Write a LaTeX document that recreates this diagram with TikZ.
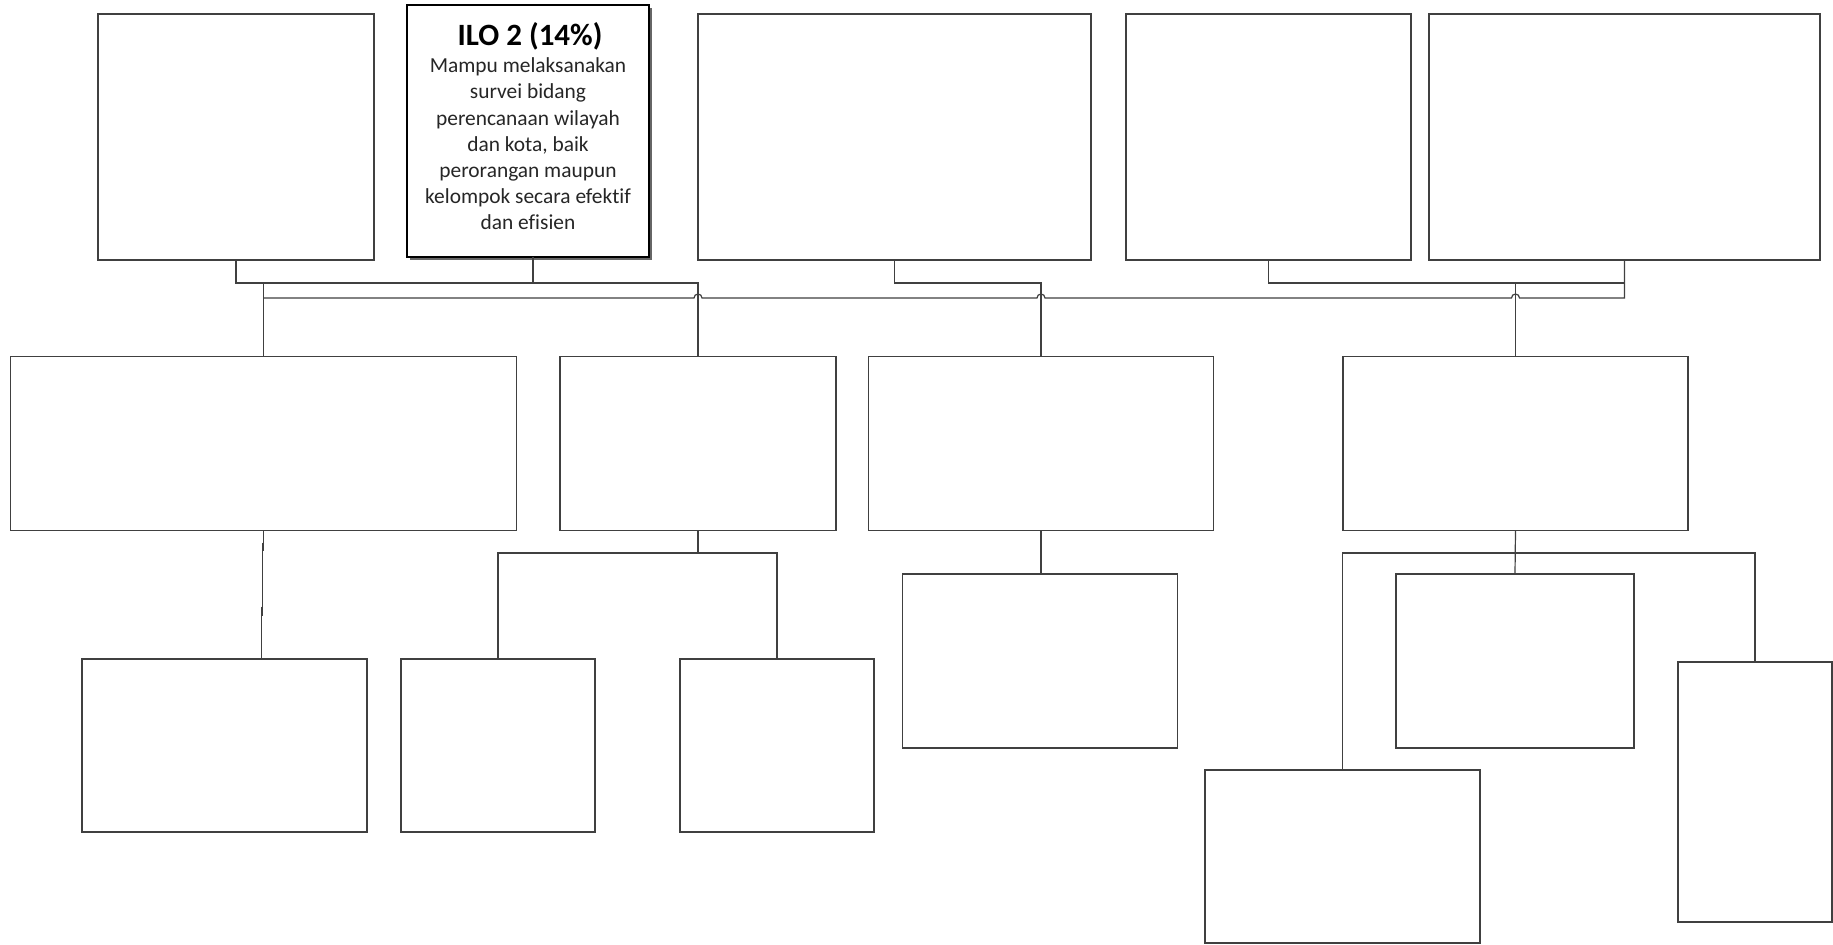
\documentclass[tikz,border=0pt]{standalone}
\usepackage{fontspec}
\setmainfont{Carlito}[Ligatures=NoCommon]
\usetikzlibrary{shadows}
\definecolor{linegray}{HTML}{404040}
\begin{document}
\begin{tikzpicture}[x=0.5pt,y=-0.5pt,
  box/.style={draw=linegray, line width=0.65pt, fill=white, rectangle, inner sep=0pt, outer sep=0pt},
  ilobox/.style={draw=black, line width=1pt, fill=white, rectangle, inner sep=0pt, outer sep=0pt,
     drop shadow={shadow xshift=1.6pt, shadow yshift=-1.6pt, fill=black!60, opacity=1}},
  conn/.style={draw=linegray, line width=0.6pt},
]
\useasboundingbox (0,0) rectangle (1833,945);
\fill[white] (0,0) rectangle (1833,945);

% top row
\node[box, minimum width=138pt, minimum height=123pt] (b1) at (236,137) {};
\node[ilobox, minimum width=121pt, minimum height=126pt] (ilo) at (528,131) {};
\node[box, minimum width=196.5pt, minimum height=123pt] (b3) at (894.5,137) {};
\node[box, minimum width=142.5pt, minimum height=123pt] (b4) at (1268.5,137) {};
\node[box, minimum width=195.5pt, minimum height=123pt] (b5) at (1624.5,137) {};
% middle row
\node[box, minimum width=253pt, minimum height=87pt] (m1) at (263.6,443.6) {};
\node[box, minimum width=138pt, minimum height=87pt] (m2) at (698,443.6) {};
\node[box, minimum width=172.5pt, minimum height=87pt] (m3) at (1041,443.6) {};
\node[box, minimum width=172.5pt, minimum height=87pt] (m4) at (1515.5,443.6) {};
% bottom row
\node[box, minimum width=142.5pt, minimum height=86.5pt] (l1) at (224.5,745.5) {};
\node[box, minimum width=97pt, minimum height=86.5pt] (l2) at (498,745.5) {};
\node[box, minimum width=97pt, minimum height=86.5pt] (l3) at (777,745.5) {};
\node[box, minimum width=137.5pt, minimum height=87pt] (l4) at (1040,661) {};
\node[box, minimum width=119pt, minimum height=87pt] (l5) at (1515,661) {};
\node[box, minimum width=137.5pt, minimum height=86.5pt] (l6) at (1342.5,856.5) {};
\node[box, minimum width=77pt, minimum height=130pt] (l7) at (1755,792) {};

% text of ILO 2
\node[font=\bfseries\fontsize{15.5}{18}\selectfont, anchor=base, inner sep=0pt] (ilot) at (530,45.5) {ILO 2 (14\%)};
\node[font=\fontsize{10.7}{13.1}\selectfont, align=center, anchor=north, inner sep=0pt, text=black!85] (ilob) at (528,57.5)
  {Mampu melaksanakan\\survei bidang\\perencanaan wilayah\\dan kota, baik\\perorangan maupun\\kelompok secara efektif\\dan efisien};

% connector levels
\coordinate (y1) at (0,283);
\coordinate (y2) at (0,298);
\coordinate (y3) at (0,553);
\coordinate (iloj) at ([xshift=2.5pt]ilo.south);

% upper connectors
\draw[conn] (b1.south) |- (m2.north |- y1) -- (m2.north);
\draw[conn] (iloj) -- (iloj |- y1);
\draw[conn] (m1.north) -- (m1.north |- y1);
\draw[conn] (b3.south) |- (m3.north |- y1) -- (m3.north);
\draw[conn] (b4.south) |- (b5.south |- y1);
\draw[conn] (m4.north) -- (m4.north |- y1);
\coordinate (h2) at (m2.north |- y2);
\coordinate (h3) at (m3.north |- y2);
\coordinate (h4) at (m4.north |- y2);
\draw[conn] (m1.north |- y2) -- ([xshift=-2pt]h2) arc[start angle=180,end angle=0,radius=2pt]
  -- ([xshift=-2pt]h3) arc[start angle=180,end angle=0,radius=2pt]
  -- ([xshift=-2pt]h4) arc[start angle=180,end angle=0,radius=2pt]
  -- (b5.south |- y2) -- (b5.south);

% lower connectors
\draw[conn] (m1.south) -- ++(0,20) ++(-1.3,-8) -- ++(0,73) ++(-1,-9) -- ++(0,52);
\draw[conn] (m2.south) -- (m2.south |- y3);
\draw[conn] (l2.north) |- (l3.north |- y3) -- (l3.north);
\draw[conn] (m3.south) -- (m3.south |- l4.north);
\draw[conn] (m4.south) -- (l5.north);
\draw[conn] (l6.north) |- (l7.north |- y3) -- (l7.north);
\end{tikzpicture}
\end{document}
